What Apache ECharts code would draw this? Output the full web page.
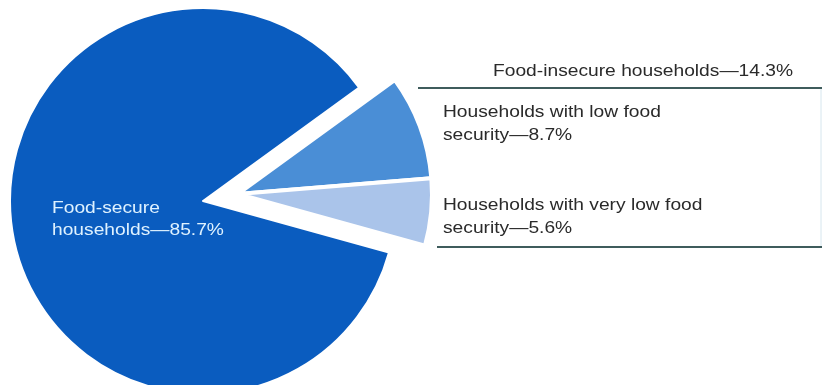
<!DOCTYPE html>
<html>
<head>
<meta charset="utf-8">
<script src="https://cdn.jsdelivr.net/npm/echarts@6/dist/echarts.min.js"></script>
<style>
  html, body { margin: 0; padding: 0; background: #ffffff; }
  #chart { width: 822px; height: 385px; }
</style>
</head>
<body>
<div id="chart"></div>
<script>
// ---- data ----
const categories = ['Households with low food security', 'Households with very low food security', 'Food-secure households'];
const shares = [8.7, 5.6, 85.7];
const sliceLabels = ['Households with low food\nsecurity\u20148.7%', 'Households with very low food\nsecurity\u20145.6%', 'Food-secure\nhouseholds\u201485.7%'];
const groupLabel = 'Food-insecure households\u201414.3%';
const colors = ['#4a8ed6', '#aac4ea', '#0a5cbf'];

const FONT = '"Liberation Sans", Arial, Helvetica, sans-serif';
const chart = echarts.init(document.getElementById('chart'), null, { renderer: 'canvas' });

const bigData = categories.map((c, i) => ({
  name: c, value: shares[i],
  itemStyle: i === 2 ? { color: colors[i], borderColor: '#ffffff', borderWidth: 2 } : { color: 'transparent', borderWidth: 0 }
}));
const smallData = categories.map((c, i) => ({
  name: c, value: shares[i],
  itemStyle: i !== 2 ? { color: colors[i], borderColor: '#ffffff', borderWidth: 4 } : { color: 'transparent', borderWidth: 0 }
}));

function txt(text, x, y, size, color, lh) {
  return { type: 'text', x: x, y: y, z: 100, silent: true, scaleX: 1.13,
    style: { text: text, fill: color, fontSize: size, fontFamily: FONT, lineHeight: lh, verticalAlign: 'top', align: 'left' } };
}

chart.setOption({
  animation: false,
  backgroundColor: '#ffffff',
  series: [
    { type: 'pie', center: [203, 201], radius: 193, startAngle: 36, clockwise: true,
      silent: true, label: { show: false }, labelLine: { show: false }, data: bigData },
    { type: 'pie', center: [238, 194], radius: 194, startAngle: 36, clockwise: true,
      silent: true, label: { show: false }, labelLine: { show: false }, data: smallData }
  ],
  graphic: [
    txt(groupLabel, 493, 61, 17, '#2a2a2a', 20),
    { type: 'line', z: 100, silent: true, shape: { x1: 418, y1: 88, x2: 822, y2: 88 }, style: { stroke: '#3f5c5c', lineWidth: 2 } },
    { type: 'line', z: 100, silent: true, shape: { x1: 821, y1: 89, x2: 821, y2: 246 }, style: { stroke: '#d6e6ee', lineWidth: 1 } },
    txt(sliceLabels[0], 443, 101, 17, '#2a2a2a', 23),
    txt(sliceLabels[1], 443, 194, 17, '#2a2a2a', 23),
    { type: 'line', z: 100, silent: true, shape: { x1: 437, y1: 247, x2: 822, y2: 247 }, style: { stroke: '#3f5c5c', lineWidth: 2 } },
    txt(sliceLabels[2], 52, 197, 17, '#dff2ff', 22)
  ]
});
</script>
</body>
</html>
